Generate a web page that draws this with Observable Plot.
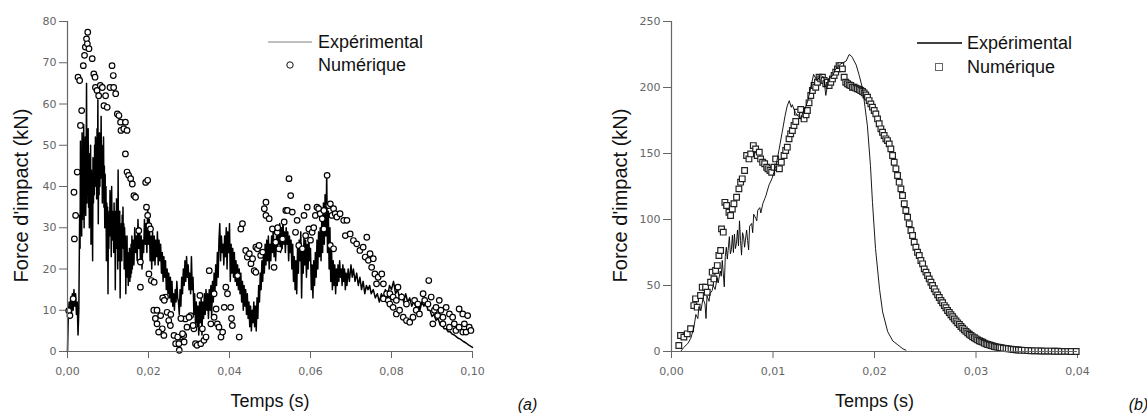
<!DOCTYPE html>
<html><head><meta charset="utf-8">
<script src="https://cdn.jsdelivr.net/npm/d3@7"></script>
<script src="https://cdn.jsdelivr.net/npm/@observablehq/plot@0.6"></script>
<style>
body{margin:0;background:#fff;}
#wrap{position:relative;width:1147px;height:414px;display:flex;overflow:hidden;}
.row{position:absolute;white-space:nowrap;display:flex;align-items:center;height:22px;font-family:"Liberation Sans",Arial,sans-serif;font-size:18px;color:#111;}
.row svg{display:block;}
</style></head><body>
<div id="wrap"></div>
<script>
// ---------- Data ----------
const xTicksA = [0, 0.02, 0.04, 0.06, 0.08, 0.10];
const yTicksA = [0, 10, 20, 30, 40, 50, 60, 70, 80];
const xTicksB = [0, 0.01, 0.02, 0.03, 0.04];
const yTicksB = [0, 50, 100, 150, 200, 250];
const xLabel = "Temps (s)";
const yLabel = "Force d'impact (kN)";
const seriesNames = ["Expérimental", "Numérique"];
const panelTags = ["(a)", "(b)"];

// Panel (a) – Expérimental [time s, force kN]
const expA = [[0,0],[0.0002,9],[0.0004,12],[0.0006,8],[0.0008,13],[0.001,9],[0.0012,14],[0.0014,10],[0.0016,15],[0.0018,11],[0.002,14],[0.0022,9],[0.0024,12],[0.0026,4],[0.0028,10],
[0.003,33],[0.0031,25],[0.0032,51],[0.0033,30],[0.0034,47],[0.0035,28],[0.0036,53],[0.0037,32],[0.0038,48],[0.0039,36],[0.004,55],[0.0041,30],[0.0042,50],[0.0043,38],[0.0044,52],[0.0045,33],[0.0046,45],[0.0047,65],[0.0048,36],[0.0049,51],[0.005,40],[0.0051,54],[0.0052,35],[0.0053,48],[0.0054,30],[0.0055,45],[0.0056,38],[0.0057,50],[0.0058,26],[0.0059,44],[0.006,36],[0.0061,41],[0.0062,22],[0.0063,47],[0.0064,36],[0.0065,44],[0.0066,38],[0.0067,50],[0.0068,40],[0.0069,52],[0.007,42],[0.0071,49],[0.0072,37],[0.0073,54],[0.0074,44],[0.0075,61],[0.0076,31],[0.0077,50],[0.0078,38],[0.0079,53],[0.008,40],[0.0081,51],[0.0082,42],[0.0083,57],[0.0084,44],[0.0085,50],[0.0086,36],[0.0087,48],[0.0088,40],[0.0089,52],[0.009,35],[0.0091,45],[0.0092,30],[0.0093,43],[0.0094,33],[0.0095,40],[0.0096,22],[0.0097,36],[0.0098,29],[0.0099,35],
[0.01,14],[0.0101,33],[0.0102,25],[0.0103,34],[0.0104,28],[0.0105,39],[0.0106,29],[0.0107,35],[0.0108,23],[0.0109,40],[0.011,30],[0.0111,34],[0.0112,27],[0.0113,33],[0.0114,24],[0.0115,36],[0.0116,28],[0.0117,34],[0.0118,15],[0.0119,31],[0.012,27],[0.0121,37],[0.0122,25],[0.0123,34],[0.0124,20],[0.0125,44],[0.0126,22],[0.0127,32],[0.0128,26],[0.0129,34],[0.013,13],[0.0131,30],[0.0132,24],[0.0133,31],[0.0134,22],[0.0135,33],[0.0136,28],[0.0137,35],[0.0138,25],[0.0139,31],[0.014,20],[0.0141,30],[0.0142,24],[0.0143,28],[0.0144,14],[0.0145,26],[0.0146,21],[0.0147,28],[0.0148,18],[0.0149,24],[0.015,16],[0.0151,23],[0.0152,19],[0.0153,25],[0.0154,17],[0.0155,22],[0.0156,18],[0.0157,26],[0.0158,19],[0.0159,28],[0.016,20],[0.0162,27],[0.0164,21],[0.0166,30],[0.0168,24],[0.017,28],[0.0172,22],[0.0174,32],[0.0176,25],[0.0178,30],[0.018,22],[0.0182,28],[0.0184,20],[0.0186,27],[0.0188,24],[0.019,32],[0.0192,26],[0.0194,31],[0.0196,24],[0.0198,35],
[0.02,26],[0.0202,32],[0.0204,22],[0.0206,28],[0.0208,20],[0.021,29],[0.0212,22],[0.0214,28],[0.0216,21],[0.0218,27],[0.022,23],[0.0222,29],[0.0224,21],[0.0226,27],[0.0228,22],[0.023,26],[0.0232,19],[0.0234,24],[0.0236,17],[0.0238,23],[0.024,18],[0.0242,22],[0.0244,15],[0.0246,20],[0.0248,14],[0.025,19],[0.0252,13],[0.0254,18],[0.0256,12],[0.0258,17],[0.026,11],[0.0262,14],[0.0264,10],[0.0266,15],[0.0268,12],[0.027,17],[0.0272,13],[0.0274,12],[0.0276,9],[0.0278,15],[0.028,11],[0.0282,18],[0.0284,14],[0.0286,20],[0.0288,16],[0.029,22],[0.0292,17],[0.0294,23],[0.0296,18],[0.0298,21],
[0.03,15],[0.0302,19],[0.0304,14],[0.0306,23],[0.0308,15],[0.031,18],[0.0312,9],[0.0314,14],[0.0316,7],[0.0318,12],[0.032,6],[0.0322,11],[0.0324,4],[0.0326,12],[0.0328,7],[0.033,13],[0.0332,4],[0.0334,12],[0.0336,8],[0.0338,14],[0.034,9],[0.0342,15],[0.0344,10],[0.0346,14],[0.0348,8],[0.035,15],[0.0352,10],[0.0354,16],[0.0356,8],[0.0358,17],[0.036,12],[0.0362,19],[0.0364,14],[0.0366,21],[0.0368,16],[0.037,24],[0.0372,18],[0.0374,27],[0.0376,31],[0.0378,22],[0.038,28],[0.0382,24],[0.0384,26],[0.0386,21],[0.0388,28],[0.039,23],[0.0392,30],[0.0394,20],[0.0396,29],[0.0398,24],
[0.04,31],[0.0402,17],[0.0404,26],[0.0406,19],[0.0408,25],[0.041,18],[0.0412,24],[0.0414,17],[0.0416,22],[0.0418,16],[0.042,21],[0.0422,15],[0.0424,20],[0.0426,14],[0.0428,19],[0.043,12],[0.0432,17],[0.0434,10],[0.0436,16],[0.0438,11],[0.044,15],[0.0442,9],[0.0444,14],[0.0446,8],[0.0448,12],[0.045,6],[0.0452,11],[0.0454,5],[0.0456,10],[0.0458,7],[0.046,12],[0.0462,6],[0.0464,11],[0.0466,5],[0.0468,13],[0.047,8],[0.0472,16],[0.0474,12],[0.0476,19],[0.0478,15],[0.048,22],[0.0482,17],[0.0484,24],[0.0486,19],[0.0488,26],[0.049,21],[0.0492,27],[0.0494,22],[0.0496,28],[0.0498,20],
[0.05,26],[0.0502,22],[0.0504,28],[0.0506,24],[0.0508,30],[0.051,23],[0.0512,27],[0.0514,22],[0.0516,28],[0.0518,25],[0.052,30],[0.0522,26],[0.0524,31],[0.0526,24],[0.0528,30],[0.053,25],[0.0532,32],[0.0534,26],[0.0536,29],[0.0538,24],[0.054,30],[0.0542,26],[0.0544,29],[0.0546,22],[0.0548,28],[0.055,24],[0.0552,27],[0.0554,20],[0.0556,26],[0.0558,17],[0.056,23],[0.0562,15],[0.0564,22],[0.0566,14],[0.0568,25],[0.057,19],[0.0572,27],[0.0574,22],[0.0576,29],[0.0578,13],[0.058,24],[0.0582,19],[0.0584,28],[0.0586,21],[0.0588,27],[0.059,18],[0.0592,26],[0.0594,20],[0.0596,27],[0.0598,22],
[0.06,25],[0.0602,15],[0.0604,21],[0.0606,13],[0.0608,22],[0.061,16],[0.0612,24],[0.0614,18],[0.0616,27],[0.0618,20],[0.062,29],[0.0622,23],[0.0624,30],[0.0626,22],[0.0628,33],[0.063,24],[0.0632,36],[0.0634,26],[0.0636,38],[0.0638,28],[0.064,43],[0.0642,24],[0.0644,34],[0.0646,20],[0.0648,30],[0.065,17],[0.0652,25],[0.0654,15],[0.0656,22],[0.0658,16],[0.066,21],[0.0662,14],[0.0664,20],[0.0666,16],[0.0668,21],[0.067,17],[0.0672,22],[0.0674,18],[0.0676,20],[0.0678,16],[0.068,21],[0.0682,17],[0.0684,20],[0.0686,15],[0.0688,19],[0.069,16],[0.0693,20],[0.0696,17],
[0.07,21],[0.0703,18],[0.0706,20],[0.071,17],[0.0714,19],[0.0718,16],[0.0722,18],[0.0726,15],[0.073,17],[0.0734,14],[0.0738,16],[0.0742,15],[0.0746,16],[0.075,14],[0.0755,15],[0.076,13],[0.0765,14],[0.077,12],[0.0775,14],[0.078,13],[0.0785,15],[0.079,13],[0.0795,16],
[0.08,15],[0.0805,17],[0.081,14],[0.0815,15],[0.082,13],[0.0825,14],[0.083,12],[0.0835,14],[0.084,12],[0.0845,13],[0.085,11],[0.0855,12],[0.086,11],[0.0865,12],[0.087,10],[0.0875,12],[0.088,11],[0.0885,12],[0.089,10],[0.0895,10],
[0.09,8.5],[0.0905,9],[0.091,7.5],[0.0915,8],[0.092,6.5],[0.0925,6.5],[0.093,5.5],[0.0935,5.5],[0.094,4.8],[0.0945,4.8],[0.095,4.2],[0.0955,4],[0.096,3.6],[0.0965,3.2],[0.097,3],[0.0975,2.6],[0.098,2.3],[0.0985,2],[0.099,1.6],[0.0995,1.3],[0.1,1]];

// Panel (a) – Numérique
const numA = [[0.0003,9.9],[0.0006,8.7],[0.0014,12.8],[0.0016,38.6],[0.0017,27.3],[0.002,33],[0.0024,43.5],[0.0026,66.5],[0.003,65.7],[0.0032,54.8],[0.0035,58.4],[0.0039,69.3],[0.0042,71.8],[0.0044,73.8],[0.0047,75.8],[0.0049,74.6],[0.005,77.4],[0.0053,73.4],[0.0061,71],[0.0065,67.3],[0.0068,66.5],[0.0069,64],[0.0073,63.3],[0.0077,62],[0.0081,64.5],[0.0086,64],[0.009,59.6],[0.0094,62],[0.0098,59.2],[0.0105,64],[0.011,69.3],[0.0113,66.9],[0.0114,64],[0.0119,62.5],[0.0123,57.6],[0.0127,57.2],[0.0131,55.6],[0.0132,53.6],[0.0139,54],[0.0143,55.6],[0.0147,53.6],[0.0143,47.9],[0.0147,43.5],[0.0151,42.7],[0.0156,41.9],[0.016,40.6],[0.0164,37.8],[0.0168,37.4],[0.0193,41],[0.0198,41.5],[0.0195,35],[0.0198,33],[0.0176,29.3],[0.018,21.7],[0.018,15.6],[0.0201,30.5],[0.0205,29.7],[0.0201,18.8],[0.0207,17.2],[0.0213,10],[0.0221,10],[0.0217,8],[0.0221,6.7],[0.023,8.7],[0.0234,5.5],[0.0238,3.9],[0.0246,9.5],[0.025,7.5],[0.0242,13.2],[0.0254,6.3],[0.0263,3.9],[0.0267,1.9],[0.0275,1.9],[0.0279,3.5],[0.0287,3.9],[0.0291,7.9],[0.0295,5.9],[0.0304,8.7],[0.0312,5.5],[0.0316,1.9],[0.032,1.5],
[0.0214,16.8],[0.0225,4.7],[0.0235,13],[0.0239,12.4],[0.0255,9],[0.0272,3.5],[0.0276,0.3],[0.028,8],[0.0284,4.3],[0.0288,2.3],[0.03,8.3],[0.031,6.3],
[0.0327,13.6],[0.0329,1.9],[0.0333,5.5],[0.0337,2.7],[0.0342,3.5],[0.035,19.6],[0.0354,6.7],[0.0362,8.3],[0.0362,14],[0.0367,10.3],[0.037,6.7],[0.0374,5.9],[0.0379,3.5],[0.0383,4.7],[0.0387,10.7],[0.0391,15.6],[0.0395,14],[0.0403,10.7],[0.0405,8],[0.0407,6.3],[0.042,18.4],[0.0424,3.5],[0.0428,29.7],[0.0432,31],[0.044,24.5],[0.0444,22.9],[0.0449,23.7],[0.0453,21.3],[0.0457,22.5],
[0.0461,19.6],[0.0465,25.3],[0.0465,19.2],[0.0469,24.9],[0.0473,25.7],[0.0477,23.3],[0.0482,24.1],[0.0486,34.6],[0.049,36.2],[0.049,33],[0.0498,32.2],[0.0506,29.7],[0.051,20.4],[0.0514,26.5],[0.0518,28.9],[0.0519,30],[0.0522,24.9],[0.0531,27.3],[0.0535,31.4],[0.0539,34.2],[0.0543,34.2],[0.0547,41.9],[0.0551,37.8],[0.0555,33.8],[0.0563,28.9],[0.0567,31.8],[0.0571,25.7],[0.058,24.9],[0.0584,33],[0.0588,28.1],[0.0592,35],[0.0596,29.7],
[0.06,27],[0.0604,28.9],[0.0608,30],[0.0612,33],[0.0616,35],[0.062,34.6],[0.0624,33.4],[0.0629,32.2],[0.0633,34.2],[0.0633,29.7],[0.0641,42.7],[0.0645,35.4],[0.0649,35.8],[0.0649,25.7],[0.0653,33],[0.0657,34.6],[0.0657,24.9],[0.0661,33.4],[0.0665,32.6],[0.0673,33.4],[0.0682,31.8],[0.069,31.8],[0.0686,28.1],[0.0698,28.5],[0.0706,26.9],[0.0714,26.1],[0.0722,24.5],[0.073,25.3],[0.0739,27.7],[0.0735,22.9],[0.0743,22.1],[0.0747,23.7],[0.0751,20.4],[0.0755,22.5],[0.0759,18.8],[0.0763,16.4],[0.0767,18],[0.0776,18.8],[0.078,16.4],[0.078,12.8],[0.0788,14],[0.0792,12.4],[0.0796,11.5],[0.0796,14],[0.0804,10.7],[0.0804,13.2],[0.0812,9.1],[0.0812,12.4],[0.0816,15.6],[0.082,10],[0.0825,13.2],[0.0829,8.3],[0.0837,7.5],[0.0837,11.5],[0.0845,7.1],[0.0853,8.3],[0.0857,12.4],[0.0861,10],[0.0865,11.5],[0.0869,9.1],[0.0878,14],[0.0882,12.4],[0.089,11.5],[0.0892,17.2],[0.0898,13.2],[0.0902,6.7],[0.0906,10],[0.091,10.7],[0.0914,8.7],[0.0918,12.4],[0.0922,10],[0.0927,8.3],[0.0927,6.7],[0.0935,10.7],[0.0943,9.1],[0.0943,5.9],[0.0951,8.3],[0.0955,6.7],[0.0959,5.1],[0.0967,10.3],[0.0967,5.9],[0.0976,9.1],[0.0976,4.7],[0.098,6.7],[0.0984,4.7],[0.0988,8.7],[0.0992,5.9],[0.0996,5.1]];

// Panel (b) – Expérimental
const expB = [[0,0],[0.0009,0],[0.0012,3],[0.0016,6],[0.0019,10],[0.0022,18],[0.0024,28],[0.0026,25],[0.0027,34],[0.0029,31],[0.0031,40],[0.0033,36],[0.0034,25],[0.0035,42],[0.0037,38],[0.0038,44],[0.004,46],[0.0041,50],[0.0043,47],[0.0045,56],[0.0046,52],[0.0048,61],[0.0049,57],[0.005,69],[0.0052,49],[0.0053,72],[0.0054,79],[0.0055,70],[0.0057,87],[0.0058,74],[0.0059,77],[0.006,88],[0.0061,75],[0.0062,89],[0.0063,78],[0.0064,82],[0.0065,92],[0.0066,80],[0.0067,99],[0.0068,84],[0.0069,73],[0.007,90],[0.0071,87],[0.0072,79],[0.0074,92],[0.0075,84],[0.0076,77],[0.0077,95],[0.0079,97],[0.008,90],[0.0081,104],[0.0083,101],[0.0084,99],[0.0085,107],[0.0087,109],[0.0088,105],[0.009,112],[0.0092,116],[0.0093,118],[0.0096,126],[0.0099,131],[0.0103,141],[0.0106,153],[0.0109,166],[0.0112,179],[0.0114,186],[0.0116,190],[0.0118,185],[0.0119,187],[0.0121,183],[0.0122,181],[0.0125,178],[0.0127,176],[0.0129,180],[0.0131,183],[0.0134,189],[0.0137,199],[0.014,210],[0.0142,207],[0.0144,206],[0.0147,209],[0.015,208],[0.0152,194],[0.0155,207],[0.0159,209],[0.0161,213],[0.0164,216],[0.0167,218],[0.0172,220],[0.0175,225],[0.0177,224],[0.0178,223],[0.0182,217],[0.0185,209],[0.0188,200],[0.019,189],[0.0193,171],[0.0196,141],[0.0198,113],[0.0201,78],[0.0205,47],[0.0208,30],[0.0213,15],[0.0218,8],[0.0223,5],[0.0228,2],[0.0231,1]];

// Panel (b) – Numérique
const numB = [[0.00072,4.5],[0.00089,12.1],[0.00122,10.9],[0.00155,13.4],[0.00188,17.2],[0.0022,34.8],[0.00237,39.9],[0.00253,33.6],[0.00286,42.4],[0.00303,48.7],[0.00336,48.7],[0.00352,44.9],[0.00385,52.5],[0.00401,60.1],[0.00418,55],[0.00434,61.4],[0.00451,65.1],[0.00467,72.7],[0.00484,76.5],[0.00493,92.9],[0.0051,90.4],[0.00526,113],[0.00543,110.6],[0.00566,105.5],[0.00582,103],[0.00599,108],[0.00615,111.9],[0.00641,116.9],[0.00664,123.2],[0.00681,128.3],[0.00697,130.8],[0.0072,137.1],[0.0074,148.5],[0.00763,145.9],[0.0078,149.7],[0.00806,156],[0.00829,153.5],[0.00845,148.5],[0.00865,151],[0.00878,145.9],[0.00898,143.4],[0.00918,142.2],[0.00938,139.6],[0.00951,138.4],[0.0097,137.1],[0.00987,135.8],[0.0101,139.6],[0.01026,145.9],[0.01043,139.6],[0.01063,138.4],[0.01082,143.4],[0.01109,148.5],[0.01125,152.3],[0.01141,154.8],[0.01158,161.1],[0.01174,164.9],[0.01191,167.4],[0.01207,171.2],[0.01224,174.2],[0.0124,181.3],[0.01273,183.3],[0.01289,178.8],[0.01306,176.2],[0.01326,179.3],[0.01339,182.6],[0.01355,188.4],[0.01372,193.9],[0.01388,197.7],[0.01405,201.5],[0.01421,200.2],[0.01438,204],[0.01454,207.8],[0.0147,206.5],[0.01487,207.8],[0.01503,205.3],[0.0152,202.8],[0.01536,204],[0.01553,201.5],[0.01569,204],[0.01586,206.5],[0.01602,209.1],[0.01618,211.6],[0.01635,214.1],[0.01651,216.6],[0.01668,216.6],[0.01684,214.1],[0.01701,207.8],[0.01717,204],[0.01734,202.8],[0.0175,202],[0.01766,201.5],[0.01783,200.2],[0.01799,200.2],[0.01816,199.5],[0.01832,199],[0.01849,198.5],[0.01865,197.7],[0.01882,197],[0.01898,195.9],[0.01914,194.4],[0.01931,192.7],[0.01947,190.1],[0.01964,187.6],[0.0198,185.1],[0.01997,182.6],[0.02013,180],[0.0203,176.2],[0.02046,172.5],[0.02063,168.7],[0.02079,166.1],[0.02095,163.6],[0.02112,161.1],[0.02128,159.8],[0.02145,157.3],[0.02161,153.5],[0.02178,148.5],[0.02194,143.4],[0.02211,138.4],[0.02227,133.3],[0.02243,128.3],[0.0226,123.2],[0.02276,118.2],[0.02293,111.9],[0.02309,106.8],[0.02326,101.8],[0.02342,96.7],[0.02359,91.7],[0.02375,87.9],[0.02391,82.8],[0.02408,79],[0.02424,75.2],[0.02441,72.7],[0.02457,68.9],[0.02474,66.4],[0.0249,62.6],[0.02507,60.1],[0.02523,57.6],[0.02539,55],[0.02556,52.5],[0.02572,50],[0.02589,47.5],[0.02605,45.2],[0.02622,42.9],[0.02638,40.9],[0.02655,38.6],[0.02671,36.9],[0.02688,34.8],[0.02704,33.1],[0.0272,31.1],[0.02737,29.5],[0.02753,27.8],[0.0277,26.3],[0.02786,24.7],[0.02803,23.2],[0.02819,21.7],[0.02836,20.5],[0.02852,18.9],[0.02868,17.7],[0.02885,16.4],[0.02901,15.2],[0.02918,14.1],[0.02934,13.1],[0.02951,12.1],[0.02967,11.1],[0.02984,10.4],[0.03,9.6],[0.03016,8.8],[0.03033,8.1],[0.03049,7.6],[0.03066,7.1],[0.03082,6.3],[0.03099,5.8],[0.03115,5.3],[0.03132,5],[0.03148,4.5],[0.03164,4.3],[0.03181,3.8],[0.03197,3.5],[0.03214,3.3],[0.0323,3],[0.03247,2.8],[0.0327,2.5],[0.03296,2.3],[0.03319,2],[0.03345,1.8],[0.03368,1.5],[0.03395,1.3],[0.03418,1.1],[0.03444,1],[0.03477,0.9],[0.0351,0.8],[0.03543,0.6],[0.03576,0.5],[0.03609,0.5],[0.03641,0.4],[0.03674,0.3],[0.03707,0.3],[0.0374,0.3],[0.03773,0.2],[0.03806,0.2],[0.03839,0.1],[0.03872,0.1],[0.03905,0.1],[0.03938,0],[0.03987,0]];

// ---------- Drawing ----------
const fmtX = d => d.toFixed(2).replace(".", ",");
const axisColor = "#666";
const textFont = "Liberation Sans, Arial, sans-serif";

function panel({width, marginLeft, marginRight, xDomain, yDomain, xTicks, yTicks, exp, num, symbol, r, dotStroke, tag, tagDx, yLabelDx, lineWidth, lineOnTop}) {
  const line = Plot.line(exp, {x: d => d[0], y: d => d[1], stroke: "#000", strokeWidth: lineWidth});
  const dots = Plot.dot(num, {x: d => d[0], y: d => d[1], symbol, r, stroke: dotStroke, strokeWidth: 1.2, fill: "white"});
  return Plot.plot({
    width, height: 414, marginLeft, marginRight, marginTop: 21, marginBottom: 63,
    x: {domain: xDomain},
    y: {domain: yDomain},
    style: {fontFamily: "DejaVu Sans, sans-serif", background: "white", overflow: "visible"},
    marks: [
      Plot.axisY({ticks: yTicks, tickSize: 8, tickPadding: 3, fontSize: 11, color: axisColor, label: null}),
      Plot.axisX({ticks: xTicks, tickFormat: fmtX, tickSize: 7, tickPadding: 9, fontSize: 11, color: axisColor, label: null}),
      ...(lineOnTop ? [dots, line] : [line, dots]),
      Plot.ruleX([0], {stroke: "#666", strokeWidth: 1.2}),
      Plot.ruleY([0], {stroke: "#666", strokeWidth: 1.2}),
      Plot.text([xLabel], {text: d => d, frameAnchor: "bottom", dy: 50, lineAnchor: "middle", textAnchor: "middle", fontSize: 18, fontFamily: textFont, fill: "#111"}),
      Plot.text([yLabel], {text: d => d, frameAnchor: "left", rotate: -90, dx: yLabelDx, dy: 9, lineAnchor: "middle", textAnchor: "middle", fontSize: 20, fontFamily: textFont, fill: "#111"}),
      Plot.text([tag], {text: d => d, frameAnchor: "bottom-right", dx: tagDx, dy: 53, lineAnchor: "middle", textAnchor: "middle", fontSize: 16, fontStyle: "italic", fontFamily: textFont, fill: "#111"})
    ]
  });
}

const wrap = document.getElementById("wrap");
wrap.append(panel({width: 573, marginLeft: 67, marginRight: 101, xDomain: [0, 0.1], yDomain: [0, 80],
  xTicks: xTicksA, yTicks: yTicksA, exp: expA, num: numA, symbol: "circle", r: 2.8, dotStroke: "#000", tag: panelTags[0], tagDx: 55, yLabelDx: -46, lineWidth: 1.5, lineOnTop: false}));
wrap.append(panel({width: 574, marginLeft: 98, marginRight: 70, xDomain: [0, 0.04], yDomain: [0, 250],
  xTicks: xTicksB, yTicks: yTicksB, exp: expB, num: numB, symbol: "square", r: 3.2, dotStroke: "#222", tag: panelTags[1], tagDx: 61, yLabelDx: -51, lineWidth: 0.9, lineOnTop: true}));

// Legends (HTML overlay)
function legendRow(left, top, swatch, label) {
  const row = document.createElement("div");
  row.className = "row";
  row.style.left = left + "px";
  row.style.top = top + "px";
  row.innerHTML = `<svg width="56" height="22">${swatch}</svg><span>${label}</span>`;
  wrap.append(row);
}
legendRow(262, 31, `<line x1="6" x2="50" y1="11" y2="11" stroke="#aaa" stroke-width="1.5"/>`, seriesNames[0]);
legendRow(262, 54, `<circle cx="28" cy="11" r="3.2" fill="white" stroke="#111" stroke-width="1"/>`, seriesNames[1]);
legendRow(911, 32, `<line x1="6" x2="51" y1="11" y2="11" stroke="#000" stroke-width="1.5"/>`, seriesNames[0]);
legendRow(911, 56, `<rect x="24.5" y="7.5" width="7" height="7" fill="white" stroke="#666" stroke-width="1"/>`, seriesNames[1]);
</script>
</body></html>
